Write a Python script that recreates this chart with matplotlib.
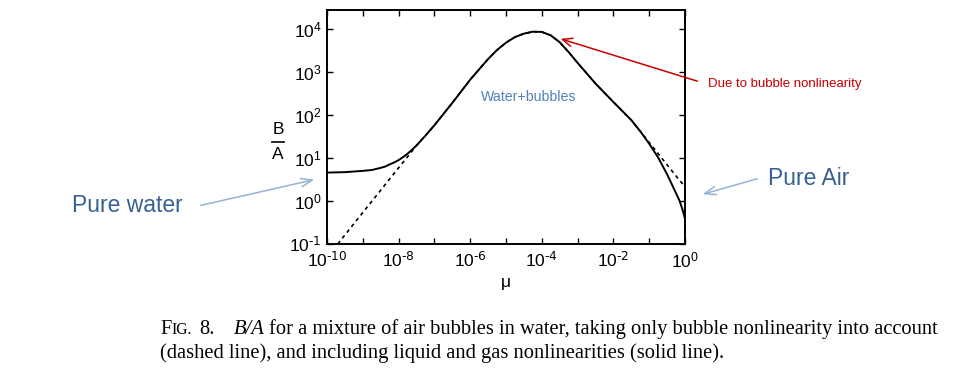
import matplotlib
matplotlib.use("Agg")
import numpy as np
import matplotlib.pyplot as plt
from matplotlib.lines import Line2D

W, H = 962, 384
plt.rcParams['font.family'] = ['Liberation Sans', 'DejaVu Sans']
plt.rcParams['mathtext.default'] = 'regular'
plt.rcParams['axes.unicode_minus'] = False

# exponents: log10(mu) and log10(B/A)
log_mu = [-10, -9.5, -9.25, -9, -8.875, -8.75, -8.625, -8.5, -8.375, -8.25, -8.125, -8,
          -7.875, -7.75, -7.625, -7.5, -7.25, -7, -6.5, -6,
          -5.5, -5.25, -5, -4.75, -4.5, -4.25, -4, -3.75, -3.5, -3.25, -3, -2.5,
          -2, -1.5, -1.25, -1, -0.75, -0.5, -0.375, -0.25, -0.15, -0.07, -0.02, 0]
log_ba_solid = [0.66, 0.67, 0.685, 0.70, 0.71, 0.72, 0.745, 0.77, 0.80, 0.85, 0.895, 0.95,
                1.02, 1.10, 1.19, 1.29, 1.52, 1.76, 2.28, 2.82,
                3.30, 3.51, 3.68, 3.81, 3.89, 3.935, 3.93, 3.85, 3.69, 3.46, 3.21, 2.73,
                2.30, 1.88, 1.62, 1.33, 1.01, 0.62, 0.40, 0.18, 0.0, -0.2, -0.35, -0.42]
log_mu_dash = [-9.7, -9.5, -9, -8.5, -8, -7.75, -7.5, -7.25, -7, -6.5, -6,
               -5.5, -5.25, -5, -4.75, -4.5, -4.25, -4, -3.75, -3.5, -3.25, -3, -2.5,
               -2, -1.5, -1.25, -1, -0.75, -0.5, -0.25, 0]
log_ba_dash = [-1.0, -0.79, -0.27, 0.25, 0.77, 1.03, 1.29, 1.52, 1.76, 2.28, 2.82,
               3.30, 3.51, 3.68, 3.81, 3.89, 3.935, 3.93, 3.85, 3.69, 3.46, 3.21, 2.73,
               2.30, 1.88, 1.62, 1.36, 1.10, 0.84, 0.58, 0.33]

xticks = [1e-10, 1e-9, 1e-8, 1e-7, 1e-6, 1e-5, 1e-4, 1e-3, 1e-2, 1e-1, 1]
xlabels = [r'$10^{\text{-10}}$', '', r'$10^{\text{-8}}$', '', r'$10^{\text{-6}}$', '',
           r'$10^{\text{-4}}$', '', r'$10^{\text{-2}}$', '', '$10^{0}$']
yticks = [1e-1, 1, 10, 100, 1e3, 1e4]
ylabels = [r'$10^{\text{-1}}$', '$10^{0}$', '$10^{1}$', '$10^{2}$', '$10^{3}$', '$10^{4}$']


def fx(x):
    return x / W


def fy(y):
    return 1 - y / H


fig = plt.figure(figsize=(W / 100, H / 100), dpi=100)
ax = fig.add_axes([fx(327), fy(244), (685 - 327) / W, (244 - 10) / H])

ax.plot(10 ** np.array(log_mu_dash), 10 ** np.array(log_ba_dash), color='black',
        lw=1.2, linestyle=(0, (2.2, 2.2)))
ax.plot(10 ** np.array(log_mu), 10 ** np.array(log_ba_solid), color='black', lw=1.4)
ax.set_xscale('log')
ax.set_yscale('log')
ax.set_xlim(1e-10, 1)
ax.set_ylim(1e-1, 2.75e4)
ax.set_xticks(xticks)
ax.set_xticklabels(xlabels)
ax.set_yticks(yticks)
ax.set_yticklabels(ylabels)
ax.minorticks_off()
ax.tick_params(direction='in', length=4, width=1, labelsize=12.5,
               top=True, right=True)
ax.tick_params(axis='x', pad=5)
ax.tick_params(axis='y', pad=4)
for s in ax.spines.values():
    s.set_linewidth(1.4)
ax.set_xlabel('μ', fontsize=12.5, labelpad=3)

# B over A label
fig.text(fx(278), fy(129), 'B', fontsize=12.5, ha='center', va='center')
fig.text(fx(278), fy(155), 'A', fontsize=12.5, ha='center', va='center')
fig.add_artist(Line2D([fx(272), fx(284)], [fy(142), fy(142)], color='black', lw=1.2))

ax.text(0.562, 0.63, 'Water+bubbles', transform=ax.transAxes, fontsize=10.2,
        color='#4f81bd', ha='center', va='center')

red = '#c80000'
fig.text(fx(708), fy(84), 'Due to bubble nonlinearity', fontsize=9.5, color=red,
         va='center')
ax.annotate('', xy=(fx(558), fy(38)), xytext=(fx(700), fy(82)),
            xycoords='figure fraction', textcoords='figure fraction',
            arrowprops=dict(arrowstyle='->,head_length=0.7,head_width=0.3',
                            color=red, lw=1.1), annotation_clip=False)

blue = '#376092'
light = '#95b3d7'
fig.text(fx(72), fy(206), 'Pure water', fontsize=16.5, color=blue, va='center')
ax.annotate('', xy=(fx(317), fy(179)), xytext=(fx(198), fy(206)),
            xycoords='figure fraction', textcoords='figure fraction',
            arrowprops=dict(arrowstyle='->,head_length=0.8,head_width=0.3',
                            color=light, lw=1.1), annotation_clip=False)
fig.text(fx(768), fy(179), 'Pure Air', fontsize=16.5, color=blue, va='center')
ax.annotate('', xy=(fx(700), fy(195)), xytext=(fx(760), fy(178)),
            xycoords='figure fraction', textcoords='figure fraction',
            arrowprops=dict(arrowstyle='->,head_length=0.8,head_width=0.3',
                            color=light, lw=1.1), annotation_clip=False)

# caption, small caps made by hand; font size fitted to the line width
fig.canvas.draw()
r = fig.canvas.get_renderer()
parts = [('F', 1.0, 'normal', 0), ('IG.', 0.76, 'normal', 7), ('8.', 1.0, 'normal', 18),
         ('B/A', 1.0, 'italic', 4),
         ('for a mixture of air bubbles in water, taking only bubble nonlinearity into account',
          1.0, 'normal', 0)]


def draw_line1(cap, keep):
    x = 160
    arts = []
    for s, k, style, gap in parts:
        t = fig.text(fx(x), fy(334), s, fontsize=cap * k, style=style,
                     family='Liberation Serif', va='baseline')
        arts.append(t)
        x += t.get_window_extent(r).width + gap * cap / 14
    if not keep:
        for t in arts:
            t.remove()
    return x - 160


width = draw_line1(14, False)
cap = 14 * 782 / width
draw_line1(cap, True)
fig.text(fx(160), fy(358),
         '(dashed line), and including liquid and gas nonlinearities (solid line).',
         fontsize=cap, family='Liberation Serif', va='baseline')

plt.savefig('out.png', dpi=100)
